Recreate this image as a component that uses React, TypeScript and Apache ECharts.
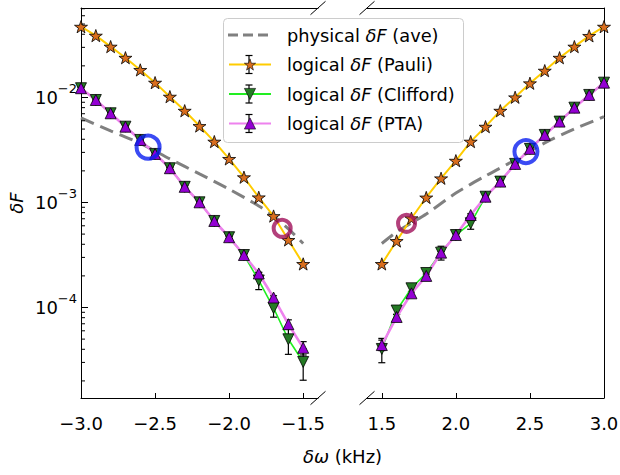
import React, { useEffect, useRef } from 'react';
import * as echarts from 'echarts';

const FONT = '"DejaVu Sans", Verdana, sans-serif';
const FS = 18;
const LEG_FS = 17.8;

// x positions (kHz)
const xLeft = [-3.0, -2.9, -2.8, -2.7, -2.6, -2.5, -2.4, -2.3, -2.2, -2.1, -2.0, -1.9, -1.8, -1.7, -1.6, -1.5];
const xRight = [1.5, 1.6, 1.7, 1.8, 1.9, 2.0, 2.1, 2.2, 2.3, 2.4, 2.5, 2.6, 2.7, 2.8, 2.9, 3.0];

// logical δF (Pauli)
const pauliLeft = [0.0472, 0.0388, 0.0305, 0.0239, 0.0183, 0.01384, 0.01018, 0.00748, 0.00535, 0.0038, 0.0026, 0.00174, 0.00112, 0.000743, 0.00044, 0.00026];
const pauliRight = [0.00026, 0.00043, 0.000708, 0.001116, 0.0017, 0.0025, 0.0038, 0.00527, 0.00748, 0.01004, 0.01365, 0.018, 0.0239, 0.0305, 0.0386, 0.0472];
const pauliErrLeft = [0.0006, 0.0005, 0.0004, 0.0003, 0.0002, 0.00015, 0.0001, 0.00008, 0.00006, 0.00004, 0.00003, 0.00002, 0.000015, 0.00001, 0.000008, 0.000005];
const pauliErrRight = [0.000005, 0.000008, 0.00001, 0.000015, 0.00002, 0.00003, 0.00004, 0.00006, 0.00008, 0.0001, 0.00015, 0.0002, 0.0003, 0.0004, 0.0005, 0.0006];

// logical δF (Clifford)
const cliffLeft = [0.01225, 0.00946, 0.00707, 0.00527, 0.00394, 0.0029, 0.00212, 0.00141, 0.001004, 0.000667, 0.000467, 0.000316, 0.000181, 0.0000989, 0.0000498, 0.0000303];
const cliffRight = [0.0000403, 0.0000936, 0.0001524, 0.000213, 0.000333, 0.00049, 0.000634, 0.001135, 0.00158, 0.00233, 0.00324, 0.0044, 0.00589, 0.008, 0.01057, 0.01384];
const cliffErrLeft = [0.0004, 0.0003, 0.0002, 0.00015, 0.0001, 0.00008, 0.00006, 0.00004, 0.00003, 0.00002, 0.000015, 0.000014, 0.000033, 0.000018, 0.000014, 0.00001];
const cliffErrRight = [0.0000105, 0.000008, 0.000012, 0.000015, 0.00005, 0.00002, 0.000078, 0.00004, 0.00005, 0.00007, 0.00009, 0.00012, 0.00016, 0.0002, 0.0003, 0.0004];

// logical δF (PTA)
const ptaLeft = [0.01225, 0.00946, 0.00707, 0.00527, 0.00394, 0.0029, 0.00212, 0.00141, 0.001004, 0.000667, 0.000467, 0.000316, 0.000211, 0.0001245, 0.0000693, 0.0000413];
const ptaRight = [0.0000439, 0.0000813, 0.0001365, 0.0002, 0.000333, 0.00049, 0.00076, 0.001135, 0.00158, 0.00233, 0.00324, 0.0044, 0.00589, 0.008, 0.01057, 0.01384];
const ptaErrLeft = [0.0003, 0.0002, 0.00015, 0.0001, 0.00008, 0.00006, 0.00004, 0.00003, 0.00002, 0.000015, 0.00001, 0.000008, 0.000006, 0.000005, 0.000007, 0.000006];
const ptaErrRight = [0.000005, 0.000005, 0.000006, 0.000008, 0.00001, 0.000015, 0.00002, 0.00003, 0.00004, 0.00006, 0.00008, 0.0001, 0.00015, 0.0002, 0.0003, 0.0003];

// physical δF (ave)
const physXLeft = [-3.0, -2.8, -2.6, -2.4, -2.2, -2.0, -1.8, -1.7, -1.6, -1.5];
const physLeft = [0.00638, 0.0048, 0.00365, 0.0026, 0.00187, 0.00134, 0.000927, 0.000743, 0.00056, 0.000407];
const physXRight = [1.5, 1.6, 1.7, 1.8, 2.0, 2.2, 2.4, 2.6, 2.8, 3.0];
const physRight = [0.000407, 0.000524, 0.000638, 0.000777, 0.00123, 0.00179, 0.00254, 0.00369, 0.00501, 0.00656];

// crossing markers
const blueCircles = [[-2.547, 0.00336], [2.473, 0.00305]];
const maroonCircles = [[-1.642, 0.000568], [1.667, 0.000634]];

// axes
const xTicksLeft = [-3.0, -2.5, -2.0, -1.5];
const xTicksRight = [1.5, 2.0, 2.5, 3.0];
const X_LEFT_RANGE = [-3.0, -1.4];
const X_RIGHT_RANGE = [1.4, 3.0];
const Y_MIN = 1.375e-5;
const Y_MAX = 0.0711;
const minorTicks: number[] = [];
for (const dec of [1e-5, 1e-4, 1e-3, 1e-2]) {
  for (let k = 2; k <= 9; k++) {
    const v = k * dec;
    if (v > Y_MIN && v < Y_MAX) minorTicks.push(v);
  }
}

const NAME_PHYS = 'physical δF (ave)';
const NAME_PAULI = 'logical δF (Pauli)';
const NAME_CLIFF = 'logical δF (Clifford)';
const NAME_PTA = 'logical δF (PTA)';

// layout
const G_TOP = 8;
const G_H = 390;
const G0_L = 81;
const G1_L = 367;
const G_W = 237;
const LEG_L = 223;
const LEG_T = 18;
const LEG_W = 240;
const LEG_H = 124;

const STAR = 'path://M50,0 L61.8,35.1 L98.1,35.1 L68.8,56.7 L79.4,91 L50,70 L20.6,91 L31.2,56.7 L1.9,35.1 L38.2,35.1 Z';

const zip = (xs: number[], ys: number[]) => xs.map((x, i) => [x, ys[i]]);
const errData = (xs: number[], ys: number[], es: number[]) =>
  xs.map((x, i) => [x, Math.max(ys[i] - es[i], 1e-9), ys[i] + es[i]]);

const fmtX = (v: number) => (v < 0 ? '\u2212' : '') + Math.abs(v).toFixed(1);

function errRender(params: any, api: any) {
  const x = api.value(0);
  const p1 = api.coord([x, api.value(1)]);
  const p2 = api.coord([x, api.value(2)]);
  const c = 3.5;
  const st = { stroke: '#000', lineWidth: 1.2 };
  return {
    type: 'group',
    children: [
      { type: 'line', shape: { x1: p1[0], y1: p1[1], x2: p2[0], y2: p2[1] }, style: st },
      { type: 'line', shape: { x1: p1[0] - c, y1: p1[1], x2: p1[0] + c, y2: p1[1] }, style: st },
      { type: 'line', shape: { x1: p2[0] - c, y1: p2[1], x2: p2[0] + c, y2: p2[1] }, style: st },
    ],
  };
}

function minorRender(params: any, api: any) {
  const p = api.coord([api.value(0), api.value(1)]);
  return {
    type: 'line',
    shape: { x1: p[0], y1: p[1], x2: p[0] + 4, y2: p[1] },
    style: { stroke: '#000', lineWidth: 1 },
  };
}

function panelSeries(idx: number) {
  const L = idx === 0;
  const xs = L ? xLeft : xRight;
  const ax = { xAxisIndex: idx, yAxisIndex: idx };
  const pauli = L ? pauliLeft : pauliRight;
  const cliff = L ? cliffLeft : cliffRight;
  const pta = L ? ptaLeft : ptaRight;
  const mk = { borderColor: '#000', borderWidth: 0.8 };
  return [
    {
      ...ax,
      type: 'line',
      name: NAME_PHYS,
      data: zip(L ? physXLeft : physXRight, L ? physLeft : physRight),
      symbol: 'none',
      smooth: 0.3,
      lineStyle: { color: '#808080', width: 3, type: [14, 7] },
      itemStyle: { color: '#808080' },
      z: 2,
    },
    {
      ...ax,
      type: 'custom',
      name: 'errPauli' + idx,
      data: errData(xs, pauli, L ? pauliErrLeft : pauliErrRight),
      renderItem: errRender,
      z: 3,
    },
    {
      ...ax,
      type: 'line',
      name: NAME_PAULI,
      data: zip(xs, pauli),
      symbol: STAR,
      symbolSize: 13,
      symbolKeepAspect: true,
      lineStyle: { color: '#ffcc00', width: 2 },
      itemStyle: { color: '#d96e1e', ...mk },
      z: 3,
    },
    {
      ...ax,
      type: 'custom',
      name: 'errCliff' + idx,
      data: errData(xs, cliff, L ? cliffErrLeft : cliffErrRight),
      renderItem: errRender,
      z: 3,
    },
    {
      ...ax,
      type: 'line',
      name: NAME_CLIFF,
      data: zip(xs, cliff),
      symbol: 'triangle',
      symbolRotate: 180,
      symbolSize: 11,
      lineStyle: { color: '#22ee22', width: 1.6 },
      itemStyle: { color: '#257a25', ...mk },
      z: 3,
    },
    {
      ...ax,
      type: 'custom',
      name: 'errPTA' + idx,
      data: errData(xs, pta, L ? ptaErrLeft : ptaErrRight),
      renderItem: errRender,
      z: 3,
    },
    {
      ...ax,
      type: 'line',
      name: NAME_PTA,
      data: zip(xs, pta),
      symbol: 'triangle',
      symbolSize: 11,
      lineStyle: { color: '#ee82ee', width: 2.6 },
      itemStyle: { color: '#9400d3', ...mk },
      z: 3,
    },
    {
      ...ax,
      type: 'scatter',
      name: 'blueCircle' + idx,
      data: [blueCircles[idx]],
      symbol: 'circle',
      symbolSize: 23,
      itemStyle: { color: 'rgba(0,0,0,0)', borderColor: '#0a1ef0', borderWidth: 4 },
      z: 5,
    },
    {
      ...ax,
      type: 'scatter',
      name: 'maroonCircle' + idx,
      data: [maroonCircles[idx]],
      symbol: 'circle',
      symbolSize: 17,
      itemStyle: { color: 'rgba(0,0,0,0)', borderColor: '#a0105a', borderWidth: 4 },
      z: 5,
    },
  ];
}

function buildOption() {
  const axisLineStyle = { color: '#000', width: 1 };
  const xBottom = (idx: number) => {
    const L = idx === 0;
    const ticks = L ? xTicksLeft : xTicksRight;
    const r = L ? X_LEFT_RANGE : X_RIGHT_RANGE;
    return {
      type: 'value',
      gridIndex: idx,
      position: 'bottom',
      min: r[0],
      max: r[1],
      axisLine: { show: true, onZero: false, lineStyle: axisLineStyle },
      axisTick: { show: true, inside: true, length: 5, customValues: ticks, lineStyle: axisLineStyle },
      axisLabel: {
        show: true,
        customValues: ticks,
        formatter: fmtX,
        fontSize: FS,
        fontFamily: FONT,
        color: '#000',
        margin: 16,
      },
      splitLine: { show: false },
    };
  };
  const xTop = (idx: number) => {
    const r = idx === 0 ? X_LEFT_RANGE : X_RIGHT_RANGE;
    return {
      type: 'value',
      gridIndex: idx,
      position: 'top',
      min: r[0],
      max: r[1],
      axisLine: { show: true, onZero: false, lineStyle: axisLineStyle },
      axisTick: { show: false },
      axisLabel: { show: false },
      splitLine: { show: false },
    };
  };
  const yLabel = (v: number) => {
    const lg = Math.log10(v);
    const e = Math.round(lg);
    if (Math.abs(lg - e) > 1e-6) return '';
    return '{b|10}{s|\u2212' + Math.abs(e) + '}';
  };

  const rowH = 29.5;
  const legendRows = [0, 1, 2, 3].map((i) => LEG_T + 17 + i * rowH);
  const handleX = LEG_L + 5 + 21;
  const legendDecor: any[] = [
    {
      type: 'line',
      z: 8,
      shape: { x1: handleX - 21, y1: legendRows[0], x2: handleX + 21, y2: legendRows[0] },
      style: { stroke: '#808080', lineWidth: 3, lineDash: [10, 5] },
    },
  ];
  for (let i = 1; i < 4; i++) {
    const cy = legendRows[i];
    const st = { stroke: '#000', lineWidth: 1.2 };
    legendDecor.push(
      { type: 'line', z: 8, shape: { x1: handleX, y1: cy - 9, x2: handleX, y2: cy + 9 }, style: st },
      { type: 'line', z: 8, shape: { x1: handleX - 3.5, y1: cy - 9, x2: handleX + 3.5, y2: cy - 9 }, style: st },
      { type: 'line', z: 8, shape: { x1: handleX - 3.5, y1: cy + 9, x2: handleX + 3.5, y2: cy + 9 }, style: st }
    );
  }

  const breakAt = (x: number, y: number) => ({
    type: 'line',
    z: 100,
    shape: { x1: x - 7.5, y1: y + 6.7, x2: x + 7.5, y2: y - 6.7 },
    style: { stroke: '#000', lineWidth: 1 },
  });
  const gB = G_TOP + G_H;

  return {
    animation: false,
    backgroundColor: '#fff',
    grid: [
      { left: G0_L, top: G_TOP, width: G_W, height: G_H, containLabel: false, outerBoundsMode: 'none' },
      { left: G1_L, top: G_TOP, width: G_W, height: G_H, containLabel: false, outerBoundsMode: 'none' },
    ],
    xAxis: [xBottom(0), xBottom(1), xTop(0), xTop(1)],
    yAxis: [
      {
        type: 'log',
        logBase: 10,
        gridIndex: 0,
        position: 'left',
        min: Y_MIN,
        max: Y_MAX,
        axisLine: { show: true, onZero: false, lineStyle: axisLineStyle },
        axisTick: { show: true, inside: true, length: 7, lineStyle: axisLineStyle },
        axisLabel: {
          show: true,
          formatter: yLabel,
          margin: 4,
          rich: {
            b: { fontSize: FS, fontFamily: FONT, color: '#000', verticalAlign: 'middle' },
            s: { fontSize: 13, fontFamily: FONT, color: '#000', verticalAlign: 'middle', padding: [0, 0, 18, 0] },
          },
        },
        splitLine: { show: false },
        minorTick: { show: false },
      },
      {
        type: 'log',
        logBase: 10,
        gridIndex: 1,
        position: 'right',
        min: Y_MIN,
        max: Y_MAX,
        axisLine: { show: true, onZero: false, lineStyle: axisLineStyle },
        axisTick: { show: false },
        axisLabel: { show: false },
        splitLine: { show: false },
      },
    ],
    legend: {
      left: LEG_L,
      top: LEG_T,
      z: 9,
      orient: 'vertical',
      data: [
        { name: NAME_PHYS, icon: 'none' },
        { name: NAME_PAULI },
        { name: NAME_CLIFF },
        { name: NAME_PTA },
      ],
      selectedMode: false,
      itemWidth: 42,
      itemHeight: 14,
      itemGap: rowH - 18,
      padding: [8, 8, 10, 5],
      backgroundColor: 'rgba(0,0,0,0)',
      borderWidth: 0,
      itemStyle: { borderColor: '#000', borderWidth: 0.6 },
      formatter: (name: string) => {
        const m = name.match(/^(\S+) δF (.*)$/);
        if (!m) return name;
        return '{n|' + m[1] + ' }{i|δF}{n| ' + m[2] + '}';
      },
      textStyle: {
        fontSize: LEG_FS,
        fontFamily: FONT,
        color: '#000',
        lineHeight: 18,
        padding: [0, 0, 0, 11],
        rich: {
          n: { fontSize: LEG_FS, fontFamily: FONT, color: '#000', lineHeight: 18 },
          i: { fontSize: LEG_FS, fontFamily: FONT, color: '#000', fontStyle: 'italic', lineHeight: 18 },
        },
      },
    },
    graphic: [
      {
        type: 'rect',
        z: 7,
        shape: { x: LEG_L + 0.5, y: LEG_T + 0.5, width: LEG_W, height: LEG_H, r: 4 },
        style: { fill: 'rgba(255,255,255,0.85)', stroke: '#cccccc', lineWidth: 1 },
      },
      breakAt(G0_L + G_W, G_TOP),
      breakAt(G1_L, G_TOP),
      breakAt(G0_L + G_W, gB),
      breakAt(G1_L, gB),
      ...legendDecor,
      {
        type: 'text',
        x: (G0_L + G1_L + G_W) / 2,
        y: 456,
        style: {
          text: '{i|δω}{n| (kHz)}',
          align: 'center',
          verticalAlign: 'middle',
          rich: {
            i: { fontSize: FS, fontFamily: FONT, fill: '#000', fontStyle: 'italic' },
            n: { fontSize: FS, fontFamily: FONT, fill: '#000' },
          },
        },
      },
      {
        type: 'text',
        x: 16,
        y: G_TOP + G_H / 2,
        rotation: Math.PI / 2,
        style: {
          text: 'δF',
          align: 'center',
          verticalAlign: 'middle',
          fontSize: FS,
          fontFamily: FONT,
          fontStyle: 'italic',
          fill: '#000',
        },
      },
    ],
    series: [
      ...panelSeries(0),
      ...panelSeries(1),
      {
        type: 'custom',
        name: 'minorTicks',
        xAxisIndex: 0,
        yAxisIndex: 0,
        data: minorTicks.map((v) => [X_LEFT_RANGE[0], v]),
        renderItem: minorRender,
        clip: false,
        z: 6,
      },
    ],
  };
}

export default function App() {
  const ref = useRef<HTMLDivElement>(null);
  useEffect(() => {
    if (!ref.current) return;
    const chart = echarts.init(ref.current, null, { renderer: 'svg' });
    chart.setOption(buildOption() as any);
    return () => chart.dispose();
  }, []);
  return (
    <div
      ref={ref}
      style={{ position: 'fixed', left: 0, top: 0, width: 620, height: 475, background: '#fff' }}
    />
  );
}
